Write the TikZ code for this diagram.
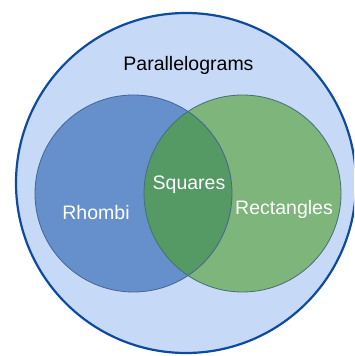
\documentclass[tikz,border=0pt]{standalone}
\usepackage{fontspec}
\setmainfont{Liberation Sans}
\definecolor{outerfill}{RGB}{198,217,247}
\definecolor{outerline}{RGB}{12,75,160}
\definecolor{rhombfill}{RGB}{102,144,204}
\definecolor{rhombline}{RGB}{66,100,150}
\definecolor{rectfill}{RGB}{125,181,122}
\definecolor{rectline}{RGB}{70,110,120}
\definecolor{sqfill}{RGB}{85,153,101}
\tikzset{
  setlabel/.style={font=\fontsize{19.5}{23}\selectfont,text=white},
}

\begin{document}
\begin{tikzpicture}[x=1pt,y=-1pt,line join=round,line cap=round]
    \useasboundingbox (0,0) rectangle (354,356);
    \clip (0,0) rectangle (354,356);
    % big set
    \draw[line width=2.2pt,draw=outerline,fill=outerfill] (186,183) circle[radius=170];
    % the two inner sets
    \fill[rhombfill] (133.5,193.5) circle[radius=98.5];
    \fill[rectfill] (242.5,193.5) circle[radius=98.5];
    \begin{scope}
      \clip (133.5,193.5) circle[radius=98.5];
      \fill[sqfill] (242.5,193.5) circle[radius=98.5];
    \end{scope}
    \draw[rhombline,line width=0.8pt] (133.5,193.5) circle[radius=98.5];
    \draw[rectline,line width=0.8pt] (242.5,193.5) circle[radius=98.5];
    \node[font=\fontsize{19.5}{23}\selectfont] (para) at (188.5,65){Parallelograms};
    \node[setlabel] (rhombi) at (96,213){Rhombi};
    \node[setlabel] (squares) at (189,185){Squares};
    \node[setlabel] (rects) at (284,209){Rectangles};
  \end{tikzpicture}
\end{document}
